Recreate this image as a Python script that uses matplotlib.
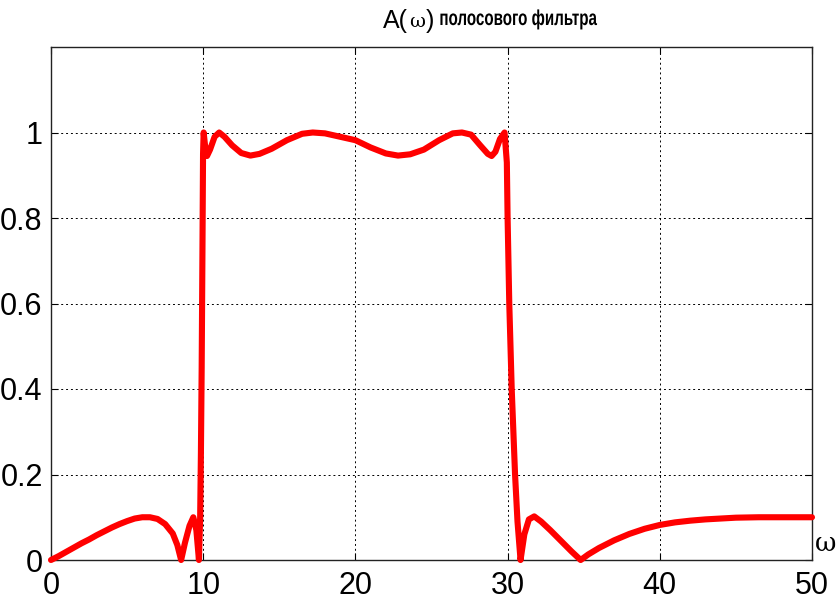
import numpy as np
import matplotlib.pyplot as plt
import matplotlib
from matplotlib.textpath import TextPath
from matplotlib.font_manager import FontProperties
from matplotlib.patches import PathPatch
from matplotlib.transforms import Affine2D, IdentityTransform

matplotlib.rcParams['font.family'] = ['Liberation Sans', 'DejaVu Sans']

# значения А(w)
omega = [0, 0.5, 1, 1.5, 2, 2.5, 3, 3.5, 4, 4.5, 5, 5.5, 6, 6.5, 7, 7.5, 8, 8.3,
         8.55, 8.8, 9.1, 9.35, 9.55, 9.72, 9.8, 9.85, 9.9, 9.95, 9.99, 10.03,
         10.12, 10.25, 10.45, 10.75, 11.05, 11.4, 11.9, 12.5, 13.1, 13.7, 14.5,
         15.5, 16.5, 17.2, 18, 19, 20, 21, 22, 22.8, 23.6, 24.5, 25.5, 26.4,
         27.0, 27.6, 28.2, 28.7, 28.95, 29.2, 29.5, 29.8, 29.95, 30.0, 30.11,
         30.27, 30.49, 30.65, 30.85, 31.1, 31.4, 31.75, 32.2, 32.8, 33.5, 34.2,
         34.8, 35.3, 36, 37, 38, 39, 40, 41, 42, 43, 44, 45, 46.5, 48, 50]
A = [0, 0.009, 0.019, 0.029, 0.039, 0.048, 0.058, 0.067, 0.076, 0.084, 0.091,
     0.097, 0.1, 0.1, 0.096, 0.084, 0.062, 0.035,
     0.0, 0.04, 0.08, 0.1, 0.07, 0.0, 0.1, 0.25, 0.45, 0.72, 0.95, 1.0,
     0.97, 0.945, 0.96, 0.99, 1.0, 0.99, 0.97, 0.952, 0.946, 0.95, 0.962,
     0.982, 0.997, 1.0, 0.998, 0.99, 0.982, 0.965, 0.951, 0.946, 0.949, 0.96,
     0.982, 0.998, 1.0, 0.995, 0.97, 0.95, 0.945, 0.955, 0.985, 1.0, 0.93,
     0.8, 0.6, 0.4, 0.2, 0.09, 0.0, 0.06, 0.095, 0.102, 0.09, 0.07, 0.045,
     0.02, 0.0, 0.013, 0.028, 0.046, 0.061, 0.073, 0.082, 0.088, 0.092,
     0.095, 0.097, 0.099, 0.1, 0.1, 0.1]

xticks = [0, 10, 20, 30, 40, 50]
yticks = [0, 0.2, 0.4, 0.6, 0.8, 1]
ylabels = ['0', '0.2', '0.4', '0.6', '0.8', '1']

W, H = 838, 596
fig = plt.figure(figsize=(W / 100, H / 100), dpi=100)
ax = fig.add_axes([51 / W, 36 / H, (812 - 51) / W, (560 - 47) / H])

ax.plot(omega, A, color='red', lw=4.4, solid_joinstyle='round',
        solid_capstyle='round', clip_on=False, zorder=3)

ax.set_xlim(0, 50)
ax.set_ylim(0, 1.2)
ax.set_xticks(xticks)
ax.set_yticks(yticks)
ax.set_yticklabels(ylabels)
ax.grid(True, color='black', linestyle=(0, (2, 3)), linewidth=0.7)
ax.tick_params(direction='in', length=5, width=0.8, labelsize=22,
               top=True, right=True, pad=6)
ax.tick_params(axis='x', pad=8)
for s in ax.spines.values():
    s.set_linewidth(1.0)
    s.set_color('#222222')

ax.text(1.004, 0.032, 'ω', transform=ax.transAxes, fontsize=19,
        ha='left', va='center', family=['DejaVu Serif'])

# заголовок: A(ω) + сжатый жирный текст
renderer = fig.canvas.get_renderer()
x = 383
t1 = fig.text(x / W, 1 - 28 / H, 'A(', fontsize=18, ha='left', va='baseline')
x = t1.get_window_extent(renderer).x1 + 1
t2 = fig.text(x / W, 1 - 27 / H, 'ω', fontsize=14, ha='left', va='baseline',
              family=['DejaVu Serif'])
x = t2.get_window_extent(renderer).x1 + 1
t3 = fig.text(x / W, 1 - 28 / H, ')', fontsize=18, ha='left', va='baseline')
x = t3.get_window_extent(renderer).x1 + 5

fp = FontProperties(family='Liberation Sans', weight='bold', size=15.5)
tp = TextPath((0, 0), 'полосового фильтра', prop=fp)
k = 100 / 72
wid = tp.get_extents().width * k
sx = (596 - x) / wid
tr = Affine2D().scale(sx * k, k).translate(x, H - 25)
fig.patches.append(PathPatch(tr.transform_path(tp), facecolor='black',
                             edgecolor='none', transform=IdentityTransform(),
                             figure=fig))

fig.savefig('out.png', dpi=100)
